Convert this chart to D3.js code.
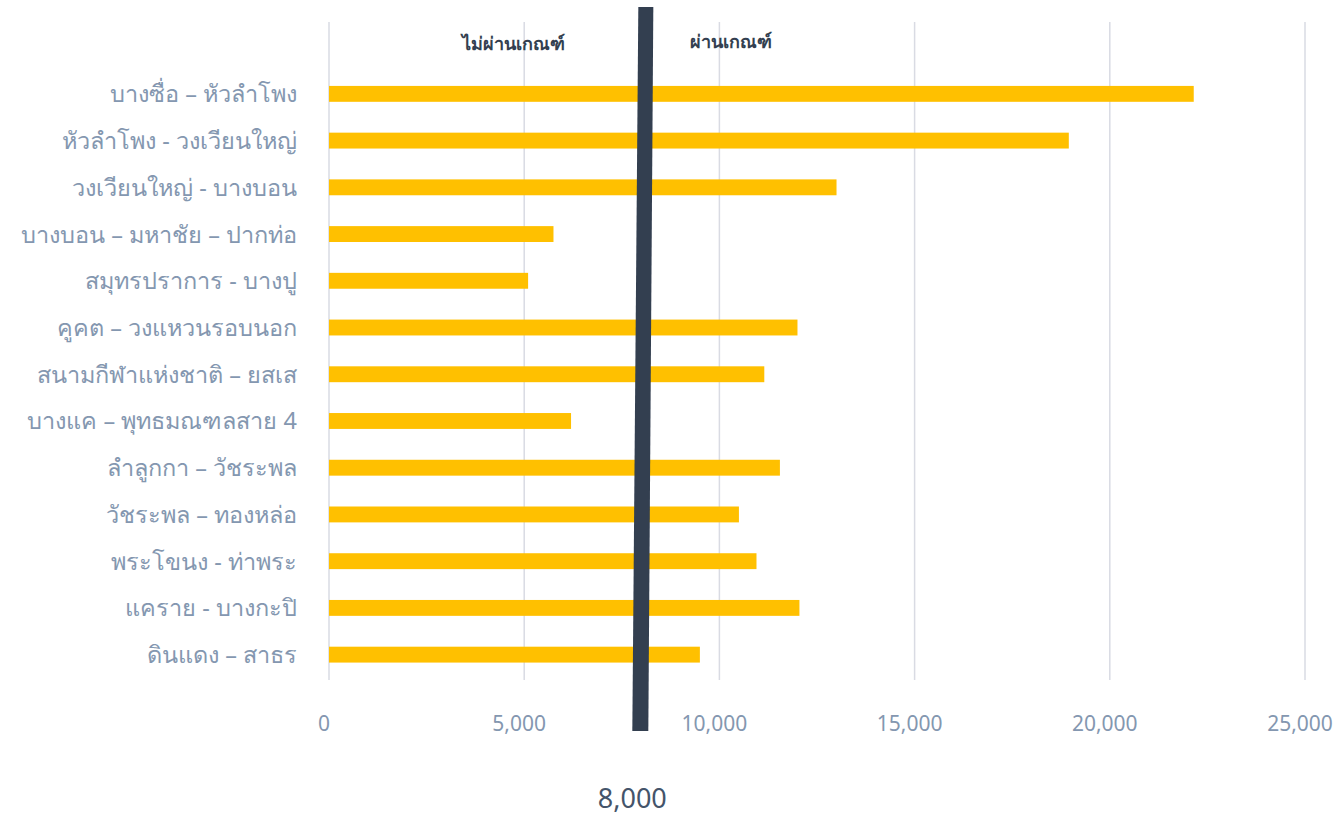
<!DOCTYPE html>
<html>
<head>
<meta charset="utf-8">
<script src="https://cdn.jsdelivr.net/npm/d3@7"></script>
<style>
  body { margin: 0; background: #fff; }
  text { font-family: "Noto Sans", "Open Sans", sans-serif; }
</style>
</head>
<body>
<svg id="chart"></svg>
<script>
// routes and ridership values
const routes = [
  "บางซื่อ – หัวลำโพง",
  "หัวลำโพง - วงเวียนใหญ่",
  "วงเวียนใหญ่ - บางบอน",
  "บางบอน – มหาชัย – ปากท่อ",
  "สมุทรปราการ - บางปู",
  "คูคต – วงแหวนรอบนอก",
  "สนามกีฬาแห่งชาติ – ยสเส",
  "บางแค – พุทธมณฑลสาย 4",
  "ลำลูกกา – วัชระพล",
  "วัชระพล – ทองหล่อ",
  "พระโขนง - ท่าพระ",
  "แคราย - บางกะปิ",
  "ดินแดง – สาธร"
];
const values = [22150, 18950, 13000, 5750, 5100, 12000, 11150, 6200, 11550, 10500, 10950, 12050, 9500];
const ticks = [0, 5000, 10000, 15000, 20000, 25000];
const threshold = 8000;
const zoneLabels = ["ไม่ผ่านเกณฑ์", "ผ่านเกณฑ์"];

const width = 1342, height = 817;
const svg = d3.select("#chart").attr("width", width).attr("height", height);

const x = d3.scaleLinear().domain([0, 25000]).range([329, 1305]);
const y = d3.scaleBand().domain(routes).range([70.5, 678]).paddingInner(0.66).paddingOuter(0.33);

// gridlines
svg.append("g")
  .selectAll("line")
  .data(ticks)
  .join("line")
  .attr("x1", d => x(d)).attr("x2", d => x(d))
  .attr("y1", 22).attr("y2", 680)
  .attr("stroke", "#d9dbe3")
  .attr("stroke-width", 1.5);

// tick labels
svg.append("g")
  .selectAll("text")
  .data(ticks)
  .join("text")
  .attr("x", d => x(d) - 5)
  .attr("y", 731)
  .attr("text-anchor", "middle")
  .attr("font-size", 21)
  .attr("fill", "#8497b0")
  .text(d => d3.format(",")(d));

// bars
svg.append("g")
  .selectAll("rect")
  .data(routes)
  .join("rect")
  .attr("x", x(0))
  .attr("y", d => y(d))
  .attr("width", (d, i) => x(values[i]) - x(0))
  .attr("height", y.bandwidth())
  .attr("fill", "#ffc000");

// category labels
svg.append("g")
  .selectAll("text")
  .data(routes)
  .join("text")
  .attr("x", 297)
  .attr("y", d => y(d) + y.bandwidth() / 2)
  .attr("dy", "0.36em")
  .attr("text-anchor", "end")
  .attr("font-size", 23.5)
  .attr("fill", "#8497b0")
  .text(d => d);

// threshold marker, slightly slanted like the drawn one
const tx = x(threshold);
svg.append("polygon")
  .attr("points", [
    [tx - 3, 7], [tx + 12, 7], [tx + 7, 731], [tx - 9, 731]
  ].map(p => p.join(",")).join(" "))
  .attr("fill", "#333f50");

svg.append("text")
  .attr("x", tx - 9)
  .attr("y", 808)
  .attr("text-anchor", "middle")
  .attr("font-size", 27)
  .attr("fill", "#44546a")
  .text(d3.format(",")(threshold));

svg.append("text")
  .attr("x", 513).attr("y", 50)
  .attr("text-anchor", "middle")
  .attr("font-size", 18).attr("font-weight", "bold")
  .attr("fill", "#333f50")
  .text(zoneLabels[0]);

svg.append("text")
  .attr("x", 731).attr("y", 48)
  .attr("text-anchor", "middle")
  .attr("font-size", 18).attr("font-weight", "bold")
  .attr("fill", "#333f50")
  .text(zoneLabels[1]);
</script>
</body>
</html>
